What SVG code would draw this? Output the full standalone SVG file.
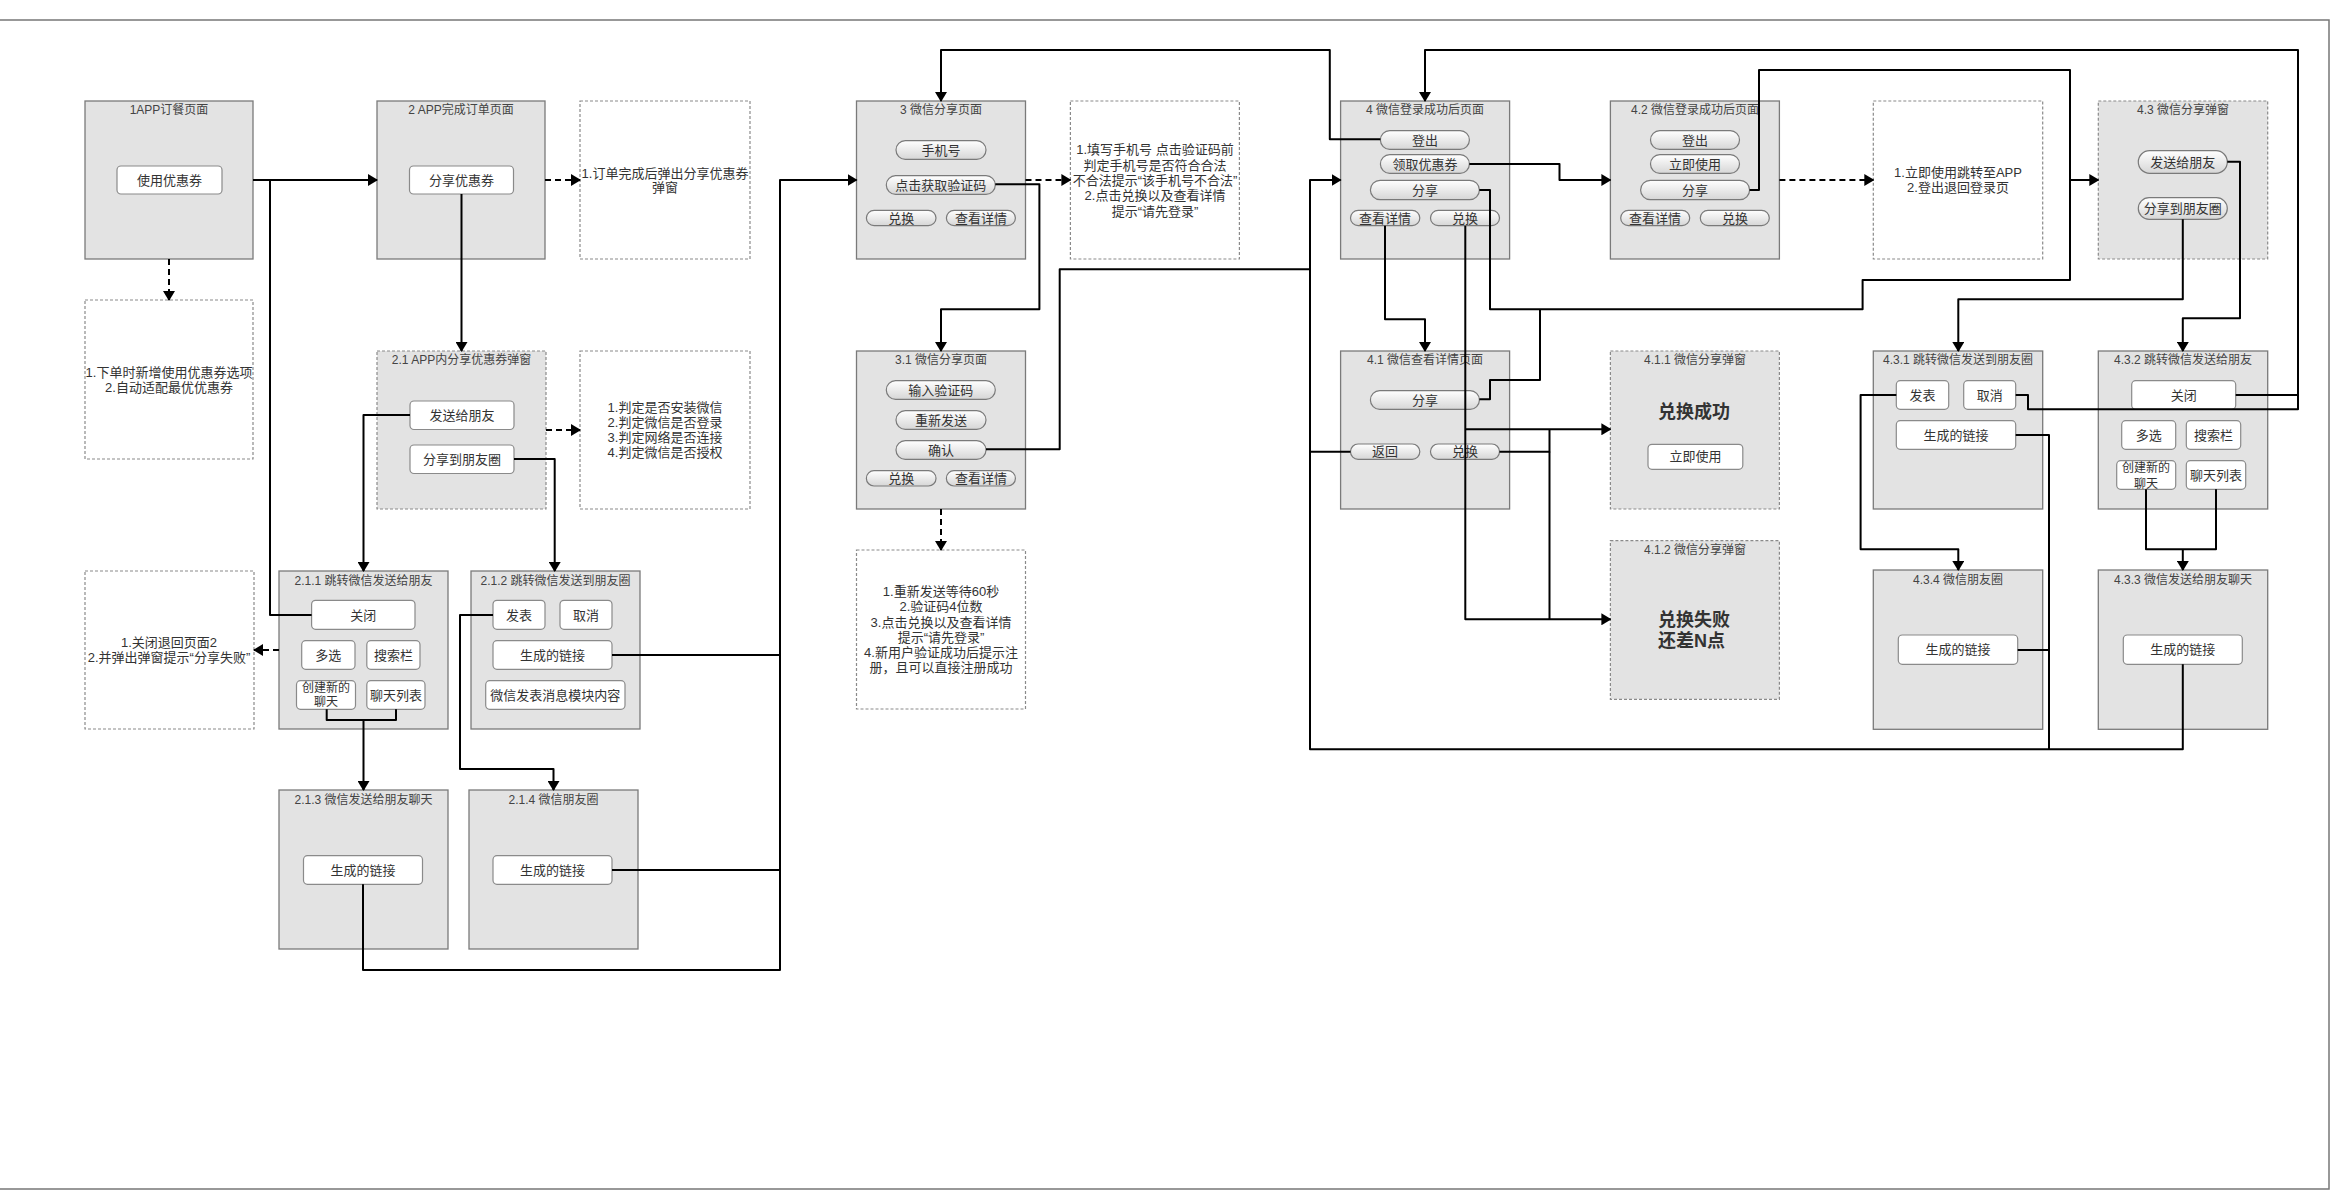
<svg xmlns="http://www.w3.org/2000/svg" width="2330" height="1190" viewBox="0 0 2330 1190">
<style>
.node{fill:#e3e3e3;stroke:#7a7a7a;stroke-width:1.3}
.nodeD{fill:#e3e3e3;stroke:#8a8a8a;stroke-width:1.2;stroke-dasharray:3 2}
.note{fill:#fff;stroke:#8a8a8a;stroke-width:1.2;stroke-dasharray:3 2}
.btn{fill:#fff;stroke:#8a8a8a;stroke-width:1.2}
.pill{fill:url(#pg);stroke:#7a7a7a;stroke-width:1.2}
text{font-family:"Liberation Sans","Noto Sans CJK SC",sans-serif;font-size:13px;fill:#333;text-anchor:middle}
.ti{font-size:12px;fill:#444}
.sm{font-size:12px}
.big{font-size:18px;font-weight:bold;fill:#333}
.c{fill:none;stroke:#000;stroke-width:2;stroke-linejoin:round}
.d{stroke-dasharray:6 4}
.frame{fill:none;stroke:#777;stroke-width:1.5}
</style>
<defs>
<linearGradient id="pg" x1="0" y1="0" x2="0" y2="1"><stop offset="0" stop-color="#ffffff"/><stop offset="1" stop-color="#d6d6d6"/></linearGradient>
<marker id="a" viewBox="0 0 10 12" refX="9" refY="6" markerWidth="10" markerHeight="12" markerUnits="userSpaceOnUse" orient="auto"><path d="M0,0 L10,6 L0,12 z" fill="#000"/></marker>
</defs>
<rect width="2330" height="1190" fill="#fff"/>
<path class="frame" d="M0,20 H2329 V1189 H0"/>

<g id="n1"><rect class="node" x="85" y="101" width="168" height="158"/><text class="ti" x="169" y="114">1APP订餐页面</text>
<rect class="btn" x="117" y="166" width="105" height="28" rx="4"/><text x="169.5" y="184.5">使用优惠券</text></g>
<g id="n1note"><rect class="note" x="85" y="300" width="168" height="159"/><text x="169" y="377">1.下单时新增使用优惠券选项</text><text x="169" y="392">2.自动适配最优优惠券</text></g>

<g id="n2"><rect class="node" x="377" y="101" width="168" height="158"/><text class="ti" x="461" y="114">2 APP完成订单页面</text>
<rect class="btn" x="409.5" y="166" width="104" height="28" rx="4"/><text x="461.5" y="184.5">分享优惠券</text></g>
<g id="n2note"><rect class="note" x="580" y="101" width="170" height="158"/><text x="665" y="177.5">1.订单完成后弹出分享优惠券</text><text x="665" y="191.5">弹窗</text></g>

<g id="n21"><rect class="nodeD" x="377" y="351" width="169" height="158"/><text class="ti" x="461.5" y="363.5">2.1 APP内分享优惠券弹窗</text>
<rect class="btn" x="410" y="401" width="104" height="28.5" rx="4"/><text x="462" y="419.5">发送给朋友</text>
<rect class="btn" x="410" y="445" width="104" height="28.5" rx="4"/><text x="462" y="463.5">分享到朋友圈</text></g>
<g id="n21note"><rect class="note" x="580" y="351" width="170" height="158"/><text x="665" y="412">1.判定是否安装微信</text><text x="665" y="427">2.判定微信是否登录</text><text x="665" y="442">3.判定网络是否连接</text><text x="665" y="457">4.判定微信是否授权</text></g>

<g id="n211"><rect class="node" x="279" y="571" width="169" height="158"/><text class="ti" x="363.5" y="584.5">2.1.1 跳转微信发送给朋友</text>
<rect class="btn" x="311.6" y="600.3" width="103.4" height="29" rx="4"/><text x="363.3" y="619.5">关闭</text>
<rect class="btn" x="301.7" y="640.7" width="53.3" height="28.6" rx="4"/><text x="328.3" y="659.5">多选</text>
<rect class="btn" x="366.8" y="640.7" width="53.2" height="28.6" rx="4"/><text x="393.4" y="659.5">搜索栏</text>
<rect class="btn" x="296.5" y="680.7" width="59" height="28.6" rx="4"/><text class="sm" x="326" y="692">创建新的</text><text class="sm" x="326" y="706">聊天</text>
<rect class="btn" x="366.8" y="680.7" width="58.2" height="28.6" rx="4"/><text x="395.9" y="699.5">聊天列表</text></g>
<g id="n211note"><rect class="note" x="85" y="571" width="169" height="158"/><text x="169" y="647">1.关闭退回页面2</text><text x="169" y="662">2.并弹出弹窗提示“分享失败”</text></g>

<g id="n212"><rect class="node" x="471" y="571" width="169" height="158"/><text class="ti" x="555.5" y="584.5">2.1.2 跳转微信发送到朋友圈</text>
<rect class="btn" x="493" y="600.3" width="52" height="29" rx="4"/><text x="519" y="619.5">发表</text>
<rect class="btn" x="560" y="600.3" width="52" height="29" rx="4"/><text x="586" y="619.5">取消</text>
<rect class="btn" x="493" y="640.7" width="119" height="28.6" rx="4"/><text x="552.5" y="659.5">生成的链接</text>
<rect class="btn" x="485.7" y="680.7" width="139.3" height="28.6" rx="4"/><text x="555.3" y="699.5">微信发表消息模块内容</text></g>

<g id="n213"><rect class="node" x="279" y="790" width="169" height="159"/><text class="ti" x="363.5" y="803.5">2.1.3 微信发送给朋友聊天</text>
<rect class="btn" x="303.5" y="855.7" width="119" height="28.6" rx="4"/><text x="363" y="874.5">生成的链接</text></g>
<g id="n214"><rect class="node" x="469" y="790" width="169" height="159"/><text class="ti" x="553.5" y="803.5">2.1.4 微信朋友圈</text>
<rect class="btn" x="493" y="855.7" width="119" height="28.6" rx="4"/><text x="552.5" y="874.5">生成的链接</text></g>

<g id="n3"><rect class="node" x="856.5" y="101" width="169" height="158"/><text class="ti" x="941" y="114">3 微信分享页面</text>
<rect class="pill" x="896" y="140.7" width="90" height="18.6" rx="9.3"/><text x="941" y="154.5">手机号</text>
<rect class="pill" x="886.3" y="175.7" width="109" height="18.6" rx="9.3"/><text x="940.8" y="189.5">点击获取验证码</text>
<rect class="pill" x="866.4" y="210.3" width="69.6" height="15.4" rx="7.7"/><text x="901.2" y="222.5">兑换</text>
<rect class="pill" x="946.4" y="210.3" width="69" height="15.4" rx="7.7"/><text x="981" y="222.5">查看详情</text></g>
<g id="n3note"><rect class="note" x="1070.4" y="101" width="169" height="158"/><text x="1155" y="154">1.填写手机号 点击验证码前</text><text x="1155" y="169.5">判定手机号是否符合合法</text><text x="1155" y="185">不合法提示“该手机号不合法”</text><text x="1155" y="200">2.点击兑换以及查看详情</text><text x="1155" y="216">提示“请先登录”</text></g>

<g id="n31"><rect class="node" x="856.5" y="351" width="169" height="158"/><text class="ti" x="941" y="364">3.1 微信分享页面</text>
<rect class="pill" x="886.3" y="380.7" width="109" height="18.6" rx="9.3"/><text x="940.8" y="394.5">输入验证码</text>
<rect class="pill" x="896" y="410.7" width="90" height="18.6" rx="9.3"/><text x="941" y="424.5">重新发送</text>
<rect class="pill" x="896" y="440.7" width="90" height="18.6" rx="9.3"/><text x="941" y="454.5">确认</text>
<rect class="pill" x="866.4" y="470.7" width="69.6" height="15.3" rx="7.6"/><text x="901.2" y="482.8">兑换</text>
<rect class="pill" x="946.4" y="470.7" width="69" height="15.3" rx="7.6"/><text x="981" y="482.8">查看详情</text></g>
<g id="n31note"><rect class="note" x="856.5" y="550" width="169" height="159"/><text x="941" y="596">1.重新发送等待60秒</text><text x="941" y="611">2.验证码4位数</text><text x="941" y="626.5">3.点击兑换以及查看详情</text><text x="941" y="641.5">提示“请先登录”</text><text x="941" y="657">4.新用户验证成功后提示注</text><text x="941" y="672">册，且可以直接注册成功</text></g>

<g id="n4"><rect class="node" x="1340.6" y="101" width="169" height="158"/><text class="ti" x="1425" y="114">4 微信登录成功后页面</text>
<rect class="pill" x="1380.4" y="130.7" width="89" height="18.6" rx="9.3"/><text x="1425" y="144.5">登出</text>
<rect class="pill" x="1380.4" y="154.7" width="89" height="18.6" rx="9.3"/><text x="1425" y="168.5">领取优惠券</text>
<rect class="pill" x="1370.4" y="180.3" width="109" height="19.4" rx="9.7"/><text x="1425" y="194.5">分享</text>
<rect class="pill" x="1350.5" y="210.3" width="69.3" height="15.4" rx="7.7"/><text x="1385" y="222.5">查看详情</text>
<rect class="pill" x="1430.5" y="210.3" width="69" height="15.4" rx="7.7"/><text x="1465" y="222.5">兑换</text></g>

<g id="n41"><rect class="node" x="1340.6" y="351" width="169" height="158"/><text class="ti" x="1425" y="364">4.1 微信查看详情页面</text>
<rect class="pill" x="1370.4" y="390.7" width="109" height="18.6" rx="9.3"/><text x="1425" y="404.5">分享</text>
<rect class="pill" x="1350.5" y="444" width="69.3" height="15.3" rx="7.6"/><text x="1385" y="456.2">返回</text>
<rect class="pill" x="1430.5" y="444" width="69" height="15.3" rx="7.6"/><text x="1465" y="456.2">兑换</text></g>

<g id="n42"><rect class="node" x="1610.4" y="101" width="169" height="158"/><text class="ti" x="1695" y="114">4.2 微信登录成功后页面</text>
<rect class="pill" x="1650.5" y="130.7" width="89" height="18.6" rx="9.3"/><text x="1695" y="144.5">登出</text>
<rect class="pill" x="1650.5" y="154.7" width="89" height="18.6" rx="9.3"/><text x="1695" y="168.5">立即使用</text>
<rect class="pill" x="1640.6" y="180.3" width="109" height="19.4" rx="9.7"/><text x="1695" y="194.5">分享</text>
<rect class="pill" x="1620.7" y="210.3" width="69" height="15.4" rx="7.7"/><text x="1655" y="222.5">查看详情</text>
<rect class="pill" x="1700.3" y="210.3" width="69" height="15.4" rx="7.7"/><text x="1735" y="222.5">兑换</text></g>
<g id="n42note"><rect class="note" x="1873.3" y="101" width="169.4" height="158"/><text x="1958" y="177">1.立即使用跳转至APP</text><text x="1958" y="192">2.登出退回登录页</text></g>

<g id="n411"><rect class="nodeD" x="1610.4" y="351" width="169" height="158"/><text class="ti" x="1695" y="364">4.1.1 微信分享弹窗</text>
<text class="big" x="1694" y="418">兑换成功</text>
<rect class="btn" x="1648" y="444.3" width="94.8" height="25" rx="4"/><text x="1695.4" y="461.3">立即使用</text></g>
<g id="n412"><rect class="nodeD" x="1610.4" y="540.7" width="169" height="158.6" /><text class="ti" x="1695" y="554">4.1.2 微信分享弹窗</text>
<text class="big" x="1658" y="626" style="text-anchor:start">兑换失败</text><text class="big" x="1658" y="647" style="text-anchor:start">还差N点</text></g>

<g id="n43"><rect class="nodeD" x="2098.3" y="101" width="169.4" height="158"/><text class="ti" x="2183" y="114">4.3 微信分享弹窗</text>
<rect class="pill" x="2138.3" y="150.7" width="89" height="22.6" rx="11.3"/><text x="2182.8" y="166.5">发送给朋友</text>
<rect class="pill" x="2138.3" y="197.7" width="89" height="21.6" rx="10.8"/><text x="2182.8" y="213">分享到朋友圈</text></g>

<g id="n431"><rect class="node" x="1873.3" y="351" width="169.4" height="158"/><text class="ti" x="1958" y="364">4.3.1 跳转微信发送到朋友圈</text>
<rect class="btn" x="1896.3" y="380.7" width="52.4" height="28.6" rx="4"/><text x="1922.5" y="399.5">发表</text>
<rect class="btn" x="1963.7" y="380.7" width="52" height="28.6" rx="4"/><text x="1989.7" y="399.5">取消</text>
<rect class="btn" x="1896.3" y="420.7" width="119.4" height="28.6" rx="4"/><text x="1956" y="439.5">生成的链接</text></g>

<g id="n432"><rect class="node" x="2098.3" y="351" width="169.4" height="158"/><text class="ti" x="2183" y="364">4.3.2 跳转微信发送给朋友</text>
<rect class="btn" x="2131.7" y="380.7" width="104" height="28.6" rx="4"/><text x="2183.7" y="399.5">关闭</text>
<rect class="btn" x="2121.7" y="420.7" width="54" height="28.6" rx="4"/><text x="2148.7" y="439.5">多选</text>
<rect class="btn" x="2186.3" y="420.7" width="54.4" height="28.6" rx="4"/><text x="2213.5" y="439.5">搜索栏</text>
<rect class="btn" x="2116.7" y="460.7" width="59" height="28.6" rx="4"/><text class="sm" x="2146" y="471.5">创建新的</text><text class="sm" x="2146" y="487.5">聊天</text>
<rect class="btn" x="2186.3" y="460.7" width="59.4" height="28.6" rx="4"/><text x="2216" y="479.5">聊天列表</text></g>

<g id="n434"><rect class="node" x="1873.3" y="570" width="169.4" height="159.3"/><text class="ti" x="1958" y="583.5">4.3.4 微信朋友圈</text>
<rect class="btn" x="1898.3" y="635" width="119.4" height="29.3" rx="4"/><text x="1958" y="654">生成的链接</text></g>
<g id="n433"><rect class="node" x="2098.3" y="570" width="169.4" height="159.3"/><text class="ti" x="2183" y="583.5">4.3.3 微信发送给朋友聊天</text>
<rect class="btn" x="2123.3" y="635" width="119" height="29.3" rx="4"/><text x="2182.8" y="654">生成的链接</text></g>

<g id="connectors">
<path class="c" d="M253,180 H377" marker-end="url(#a)"/>
<path class="c" d="M311.6,615 H270 V180 H290"/>
<path class="c d" d="M169,259 V300" marker-end="url(#a)"/>
<path class="c d" d="M545,180 H580" marker-end="url(#a)"/>
<path class="c" d="M461.5,194 V351" marker-end="url(#a)"/>
<path class="c d" d="M546,430 H580" marker-end="url(#a)"/>
<path class="c" d="M410,415 H363.5 V571" marker-end="url(#a)"/>
<path class="c" d="M514,459 H554.7 V571" marker-end="url(#a)"/>
<path class="c d" d="M279,650 H254" marker-end="url(#a)"/>
<path class="c" d="M326.7,709.3 V720 H396 V709.3"/>
<path class="c" d="M363.5,720 V790" marker-end="url(#a)"/>
<path class="c" d="M493,615 H460 V769 H553.5 V790" marker-end="url(#a)"/>
<path class="c" d="M612,655 H780"/>
<path class="c" d="M612,870 H780"/>
<path class="c" d="M363,884.3 V970 H780 V180 H856.5" marker-end="url(#a)"/>
<path class="c d" d="M1025.5,180 H1070.4" marker-end="url(#a)"/>
<path class="c" d="M995.3,184.3 H1039.4 V309.3 H941 V351" marker-end="url(#a)"/>
<path class="c d" d="M941,509 V550" marker-end="url(#a)"/>
<path class="c" d="M986,449.3 H1059.7 V269.3 H1310"/>
<path class="c" d="M2182.8,664.3 V749.3 H1310 V180 H1340.6" marker-end="url(#a)"/>
<path class="c" d="M1350.5,451.7 H1310"/>
<path class="c" d="M2015.7,435 H2049 V749.3"/>
<path class="c" d="M2017.7,650 H2049"/>
<path class="c" d="M1380.4,139.3 H1329.8 V50 H941 V101" marker-end="url(#a)"/>
<path class="c" d="M1469.4,164 H1559.5 V180 H1610.4" marker-end="url(#a)"/>
<path class="c" d="M1479.4,190 H1490 V309.3 H1862.6 V280 H2070 V180 H2098.3" marker-end="url(#a)"/>
<path class="c" d="M1749.6,190 H1759 V70 H2070 V180"/>
<path class="c" d="M1479.4,399.3 H1490 V380 H1540 V309.3"/>
<path class="c d" d="M1779.4,180 H1873.3" marker-end="url(#a)"/>
<path class="c" d="M1385,225.7 V319.3 H1425 V351" marker-end="url(#a)"/>
<path class="c" d="M1465.3,225.7 V619.3 H1610.4" marker-end="url(#a)"/>
<path class="c" d="M1465.3,429.3 H1610.4" marker-end="url(#a)"/>
<path class="c" d="M1499.5,451.7 H1549.5 V429.3"/>
<path class="c" d="M1549.5,451.7 V619.3"/>
<path class="c" d="M2235.7,395 H2298 V50 H1425 V101" marker-end="url(#a)"/>
<path class="c" d="M2015.7,395 H2028 V409.3 H2298 V395"/>
<path class="c" d="M2227.3,161.7 H2240 V318.3 H2182.8 V351" marker-end="url(#a)"/>
<path class="c" d="M2182.8,219.3 V299.3 H1958.3 V351" marker-end="url(#a)"/>
<path class="c" d="M1896.3,395 H1860.6 V549.3 H1958.3 V570" marker-end="url(#a)"/>
<path class="c" d="M2146,489.3 V549.3 H2216 V489.3"/>
<path class="c" d="M2182.8,549.3 V570" marker-end="url(#a)"/>
</g>
</svg>
